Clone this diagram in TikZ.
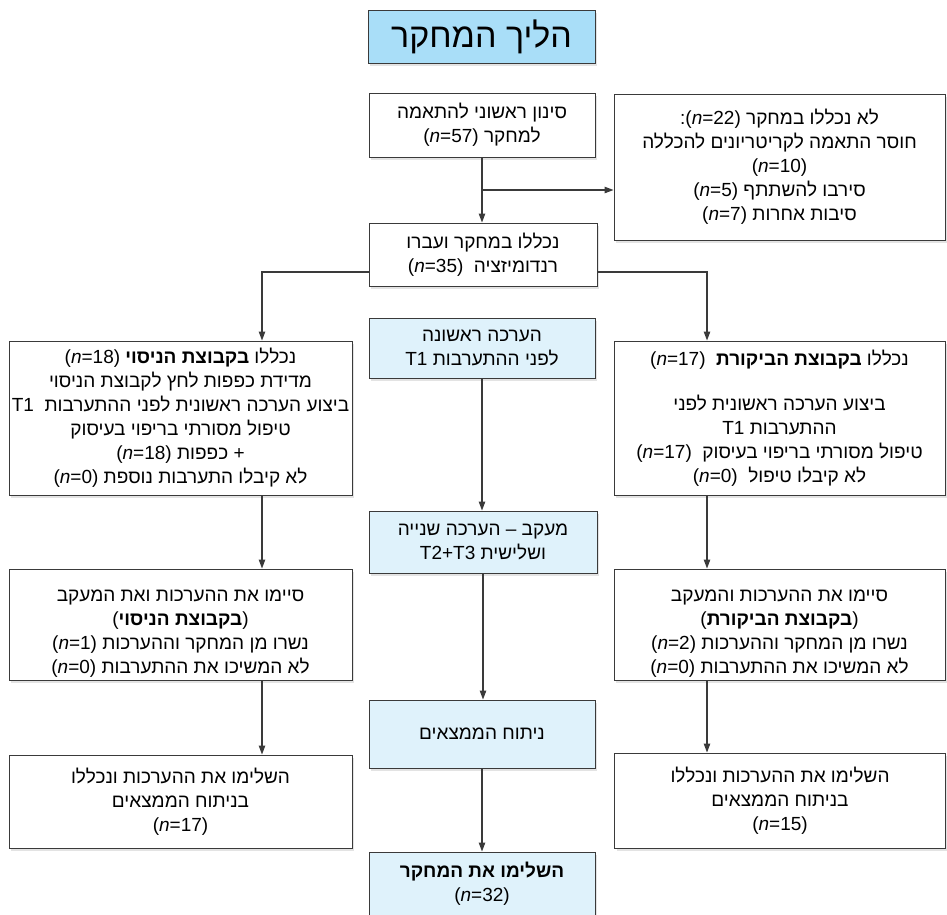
\documentclass[tikz,border=0pt]{standalone}
\usepackage{fontspec}
\setmainfont{Liberation Sans}
\newfontfamily\hebfont[Script=Hebrew]{Liberation Sans}
\usetikzlibrary{positioning,arrows.meta,shadows}
\TeXXeTstate=1

\definecolor{linegray}{HTML}{3A3A3A}
\definecolor{titleblue}{HTML}{A9DEF8}
\definecolor{paleblue}{HTML}{DFF2FB}

\newcommand{\rl}[1]{\beginR#1\endR}
\newcommand{\nval}[1]{\beginL{\rmfamily(\textit{n}=#1)}\endL}
\newcommand{\tval}[1]{\beginL{\rmfamily #1}\endL}
\newcommand{\grp}[1]{\beginL{\rmfamily(}\beginR\textbf{#1}\endR{\rmfamily)}\endL}

\begin{document}
\begin{tikzpicture}[x=1pt,y=-1pt,
  box/.style={draw=linegray,line width=1pt,fill=white,align=center,inner sep=0pt,
    drop shadow={opacity=0.22,shadow xshift=2pt,shadow yshift=-3pt}},
  midbox/.style={box,fill=paleblue},
  conn/.style={draw=linegray,line width=1.1pt,-{Triangle[length=9pt,width=6.5pt]}},
  font=\hebfont\fontsize{19}{24}\selectfont]
\useasboundingbox (0,0) rectangle (947,914);

% title
\node[box,fill=titleblue,minimum width=227pt,minimum height=53pt,
  font=\hebfont\fontsize{34}{40}\selectfont] (title) at (481.5,36.5) {\rl{הליך המחקר}};

% screening and randomisation
\node[box,minimum width=226pt,minimum height=64pt] (screen) at (482,125)
  {\rl{סינון ראשוני להתאמה}\\\rl{למחקר \nval{57}}};
\node[box,minimum width=331pt,minimum height=146pt] (excl) at (779.5,167)
  {\rl{לא נכללו במחקר \nval{22}:}\\
   \rl{חוסר התאמה לקריטריונים להכללה}\\
   \rl{\nval{10}}\\
   \rl{סירבו להשתתף \nval{5}}\\
   \rl{סיבות אחרות \nval{7}}};
\node[box,minimum width=228pt,minimum height=63pt] (rand) at (483,254.5)
  {\rl{נכללו במחקר ועברו}\\\rl{רנדומיזציה~~\nval{35}}};

% middle column
\node[midbox,minimum width=226pt,minimum height=60pt] (t1) at (482,348)
  {\rl{הערכה ראשונה}\\\rl{לפני ההתערבות \tval{T1}}};
\node[midbox,minimum width=228pt,minimum height=62pt] (follow) at (483,542)
  {\rl{מעקב – הערכה שנייה}\\\rl{ושלישית \tval{T2+T3}}};
\node[midbox,minimum width=226pt,minimum height=68pt] (anal) at (482,734)
  {\rl{ניתוח הממצאים}};
\node[midbox,minimum width=226pt,minimum height=64pt] (done) at (482,884)
  {\rl{\textbf{השלימו את המחקר}}\\\rl{\nval{32}}};

% intervention group (left)
\node[box,minimum width=343pt,minimum height=154pt] (intv1) at (180.5,418)
  {\rl{נכללו \textbf{בקבוצת הניסוי} \nval{18}}\\
   \rl{מדידת כפפות לחץ לקבוצת הניסוי}\\
   \rl{ביצוע הערכה ראשונית לפני ההתערבות~~\tval{T1}}\\
   \rl{טיפול מסורתי בריפוי בעיסוק}\\
   \rl{+ כפפות \nval{18}}\\
   \rl{לא קיבלו התערבות נוספת \nval{0}}};
\node[box,minimum width=343pt,minimum height=111pt] (intv2) at (180.5,624.5)
  {\rl{\rule{0pt}{30pt}סיימו את ההערכות ואת המעקב}\\
   \grp{בקבוצת הניסוי}\\
   \rl{נשרו מן המחקר וההערכות \nval{1}}\\
   \rl{לא המשיכו את ההתערבות \nval{0}}};
\node[box,minimum width=343pt,minimum height=93pt] (intv3) at (180.5,801.5)
  {\rl{השלימו את ההערכות ונכללו}\\\rl{בניתוח הממצאים}\\\rl{\nval{17}}};

% control group (right)
\node[box,minimum width=331pt,minimum height=154pt] (ctrl1) at (779.5,418)
  {\rl{נכללו \textbf{בקבוצת הביקורת}~~\nval{17}}\\[21pt]
   \rl{ביצוע הערכה ראשונית לפני}\\
   \rl{ההתערבות \tval{T1}}\\
   \rl{טיפול מסורתי בריפוי בעיסוק~~\nval{17}}\\
   \rl{לא קיבלו טיפול~~\nval{0}}};
\node[box,minimum width=331pt,minimum height=111pt] (ctrl2) at (779.5,624.5)
  {\rl{\rule{0pt}{30pt}סיימו את ההערכות והמעקב}\\
   \grp{בקבוצת הביקורת}\\
   \rl{נשרו מן המחקר וההערכות \nval{2}}\\
   \rl{לא המשיכו את ההתערבות \nval{0}}};
\node[box,minimum width=331pt,minimum height=95pt] (ctrl3) at (780,800.5)
  {\rl{השלימו את ההערכות ונכללו}\\\rl{בניתוח הממצאים}\\\rl{\nval{15}}};

% connectors
\coordinate (split) at (482,190);
\coordinate (brL) at (262,272);
\coordinate (brR) at (707,272);

\draw[conn] (screen.south) -- (screen.south |- rand.north);
\draw[conn] (split) -- (split -| excl.west);
\draw[conn] (brL -| rand.west) -- (brL) -- (brL |- intv1.north);
\draw[conn] (brR -| rand.east) -- (brR) -- (brR |- ctrl1.north);

\draw[conn] (brL |- intv1.south) -- (brL |- intv2.north);
\draw[conn] (brL |- intv2.south) -- (brL |- intv3.north);
\draw[conn] (brR |- ctrl1.south) -- (brR |- ctrl2.north);
\draw[conn] (brR |- ctrl2.south) -- (brR |- ctrl3.north);

\draw[conn] (t1.south) -- (t1.south |- follow.north);
\draw[conn] (follow.south) -- (follow.south |- anal.north);
\draw[conn] (anal.south) -- (anal.south |- done.north);
\end{tikzpicture}
\end{document}
